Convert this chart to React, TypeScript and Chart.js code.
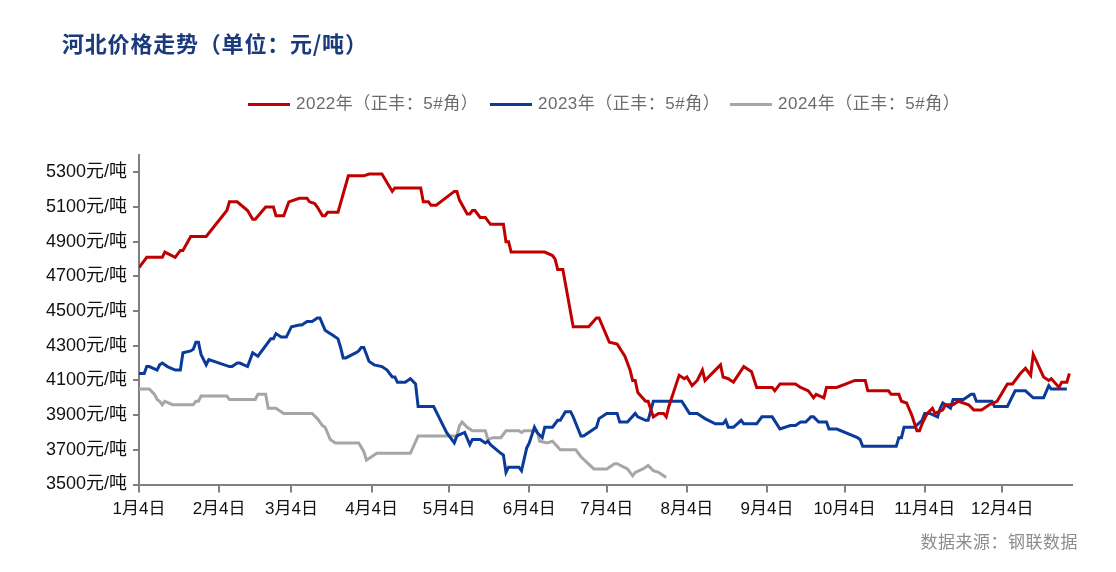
import React, { useEffect, useRef } from "react";
import { Chart, registerables } from "chart.js";

Chart.register(...registerables);

// ---- data (x = day of year, y = price 元/吨) ----
const tickDays = [4, 35, 63, 94, 124, 155, 185, 216, 247, 277, 308, 338];
const tickLabels = ["1月4日", "2月4日", "3月4日", "4月4日", "5月4日", "6月4日", "7月4日", "8月4日", "9月4日", "10月4日", "11月4日", "12月4日"];
const yTicks = [3500, 3700, 3900, 4100, 4300, 4500, 4700, 4900, 5100, 5300];

const seriesNames = ["2022年（正丰：5#角）", "2023年（正丰：5#角）", "2024年（正丰：5#角）"];
const seriesColors = ["#C00000", "#0A3A9A", "#A6A6A6"];

const days2022 = [4,7,13,14,18,20,21,24,30,38,39,42,46,48,49,53,56,57,60,62,66,69,70,72,73,75,76,77,81,85,91,93,98,102,103,113,114,116,117,119,126,127,128,131,132,133,134,136,138,140,145,146,147,148,161,164,165,166,168,172,178,181,182,186,189,192,194,195,196,197,200,201,203,205,207,208,209,211,213,215,216,218,220,222,223,229,230,232,234,238,239,241,243,249,250,252,258,260,263,265,266,269,270,274,281,285,286,294,295,298,299,301,303,305,306,307,309,311,312,315,316,319,321,325,327,330,333,336,340,342,345,347,349,350,354,356,357,360,361,363,364];
const prices2022 = [4750,4810,4810,4840,4810,4850,4850,4930,4930,5080,5130,5130,5080,5030,5030,5100,5100,5050,5050,5130,5150,5150,5130,5120,5100,5050,5050,5070,5070,5280,5280,5290,5290,5190,5210,5210,5130,5130,5110,5110,5190,5190,5140,5060,5060,5080,5080,5040,5040,5000,5000,4900,4900,4840,4840,4820,4800,4740,4740,4410,4410,4460,4460,4320,4310,4240,4160,4100,4100,4030,3980,3980,3890,3910,3910,3890,3950,4040,4130,4110,4120,4070,4100,4160,4100,4190,4120,4110,4090,4180,4170,4150,4060,4060,4040,4080,4080,4060,4040,4000,4020,4000,4060,4060,4100,4100,4040,4040,4020,4020,3980,3970,3900,3810,3810,3850,3910,3940,3910,3930,3960,3960,3980,3960,3930,3930,3960,3980,4080,4080,4140,4170,4130,4250,4120,4100,4110,4060,4090,4090,4140];

const days2023 = [4,6,7,8,11,12,13,15,18,20,21,24,25,26,27,28,30,31,39,40,42,43,46,48,50,55,56,57,59,61,63,66,67,69,71,73,74,76,77,79,81,82,83,84,88,89,90,91,93,95,98,100,102,103,104,107,109,111,112,118,120,123,126,127,130,132,133,136,138,139,140,144,145,146,147,151,152,154,155,157,158,160,161,164,166,167,169,171,172,175,176,180,181,182,185,189,190,193,196,197,200,201,203,214,217,220,223,227,230,231,232,234,237,238,243,245,249,252,256,258,260,262,264,265,267,270,271,274,282,283,284,297,298,299,300,304,307,308,310,313,314,315,318,319,323,326,327,328,334,335,340,343,347,350,354,356,357,363];
const prices2023 = [4140,4140,4180,4180,4160,4190,4200,4180,4160,4160,4260,4270,4280,4320,4320,4250,4190,4220,4180,4180,4200,4200,4180,4260,4240,4340,4340,4370,4350,4350,4410,4420,4420,4440,4440,4460,4460,4390,4380,4360,4340,4290,4230,4230,4260,4270,4290,4290,4210,4190,4180,4160,4120,4120,4090,4090,4110,4080,3950,3950,3890,3800,3740,3780,3800,3730,3760,3760,3740,3750,3730,3680,3670,3570,3600,3600,3580,3710,3740,3830,3800,3770,3830,3830,3870,3870,3920,3920,3890,3780,3780,3820,3830,3880,3910,3910,3860,3860,3910,3890,3870,3870,3980,3980,3910,3910,3880,3850,3850,3870,3830,3830,3870,3850,3850,3890,3890,3820,3840,3840,3860,3860,3890,3890,3860,3860,3820,3820,3770,3760,3720,3720,3770,3770,3830,3830,3870,3910,3910,3890,3940,3970,3940,3990,3990,4020,4020,3980,3980,3950,3950,4040,4040,4000,4000,4070,4050,4050];

const days2024 = [4,8,10,11,12,13,14,17,25,26,27,28,38,39,49,50,53,54,57,60,71,73,75,76,78,80,89,91,92,96,109,112,127,128,129,131,133,138,139,141,144,146,151,152,153,158,159,162,164,167,173,175,180,185,188,189,193,195,196,199,201,203,205,208];
const prices2024 = [4050,4050,4020,3990,3980,3960,3980,3960,3960,3980,3980,4010,4010,3990,3990,4020,4020,3940,3940,3910,3910,3880,3840,3830,3760,3740,3740,3690,3640,3680,3680,3780,3780,3840,3860,3830,3810,3810,3760,3770,3770,3810,3810,3800,3810,3810,3750,3740,3750,3700,3700,3660,3590,3590,3620,3620,3590,3550,3570,3590,3610,3580,3570,3540];

const toPoints = (d: number[], p: number[]) => d.map((x, i) => ({ x, y: p[i] }));

const FONT = "'Liberation Sans', 'Noto Sans CJK SC', sans-serif";

export default function App() {
  const canvasRef = useRef<HTMLCanvasElement | null>(null);

  useEffect(() => {
    document.body.style.margin = "0";
    const ctx = canvasRef.current;
    if (!ctx) return;
    const chart = new Chart(ctx, {
      type: "line",
      data: {
        datasets: [
          { label: seriesNames[0], data: toPoints(days2022, prices2022), borderColor: seriesColors[0] },
          { label: seriesNames[1], data: toPoints(days2023, prices2023), borderColor: seriesColors[1] },
          { label: seriesNames[2], data: toPoints(days2024, prices2024), borderColor: seriesColors[2] },
        ].map((ds) => ({ ...ds, borderWidth: 3, pointRadius: 0, tension: 0, fill: false })),
      },
      options: {
        animation: false,
        responsive: false,
        maintainAspectRatio: false,
        layout: { padding: { top: 155, right: 44, left: 0, bottom: 0 } },
        plugins: { legend: { display: false }, title: { display: false }, tooltip: { enabled: false } },
        scales: {
          x: {
            type: "linear",
            min: 4,
            max: 365,
            afterBuildTicks: (scale: any) => {
              scale.ticks = tickDays.map((v) => ({ value: v }));
            },
            afterFit: (scale: any) => {
              scale.height = 87.5;
            },
            ticks: {
              autoSkip: false,
              maxRotation: 0,
              padding: 7,
              color: "#111",
              font: { family: FONT, size: 17 },
              callback: (_v: any, i: number) => tickLabels[i],
            },
            grid: { drawOnChartArea: false, drawTicks: true, tickLength: 8, color: "#808080", lineWidth: 2 },
            border: { display: true, color: "#808080", width: 2 },
          },
          y: {
            type: "linear",
            min: 3500,
            max: 5400,
            afterBuildTicks: (scale: any) => {
              scale.ticks = yTicks.map((v) => ({ value: v }));
            },
            afterFit: (scale: any) => {
              scale.width = 139;
            },
            ticks: {
              padding: 6,
              color: "#111",
              font: { family: FONT, size: 18 },
              callback: (v: any) => `${v}元/吨`,
            },
            grid: { drawOnChartArea: false, drawTicks: true, tickLength: 6, color: "#808080", lineWidth: 2 },
            border: { display: true, color: "#808080", width: 2 },
          },
        },
      },
    } as any);
    return () => chart.destroy();
  }, []);

  const legendLefts = [248, 490, 730];

  return (
    <div style={{ position: "absolute", left: 0, top: 0, width: 1116, height: 572, background: "#fff", overflow: "hidden" }}>
      <canvas ref={canvasRef} width={1116} height={572} style={{ display: "block", width: 1116, height: 572 }} />
      <div
        style={{
          position: "absolute",
          left: 62,
          top: 27,
          fontFamily: "'Noto Sans CJK SC', sans-serif",
          fontWeight: 700,
          fontSize: 22,
          letterSpacing: 0.8,
          lineHeight: "30px",
          color: "#1A3A7C",
          whiteSpace: "nowrap",
        }}
      >
        河北价格走势（单位：元/吨）
      </div>
      {seriesNames.map((name, i) => (
        <React.Fragment key={name}>
          <div style={{ position: "absolute", left: legendLefts[i], top: 102.5, width: 42, height: 3, background: seriesColors[i] }} />
          <div
            style={{
              position: "absolute",
              left: legendLefts[i] + 48,
              top: 93,
              fontFamily: FONT,
              fontSize: 17,
              letterSpacing: 0.5,
              lineHeight: "22px",
              color: "#6B6B6B",
              whiteSpace: "nowrap",
            }}
          >
            {name}
          </div>
        </React.Fragment>
      ))}
      <div
        style={{
          position: "absolute",
          right: 1116 - 1078,
          top: 530,
          fontFamily: "'Noto Sans CJK SC', sans-serif",
          fontSize: 17,
          letterSpacing: 0.5,
          lineHeight: "22px",
          color: "#8C8C8C",
          whiteSpace: "nowrap",
        }}
      >
        数据来源：钢联数据
      </div>
    </div>
  );
}
